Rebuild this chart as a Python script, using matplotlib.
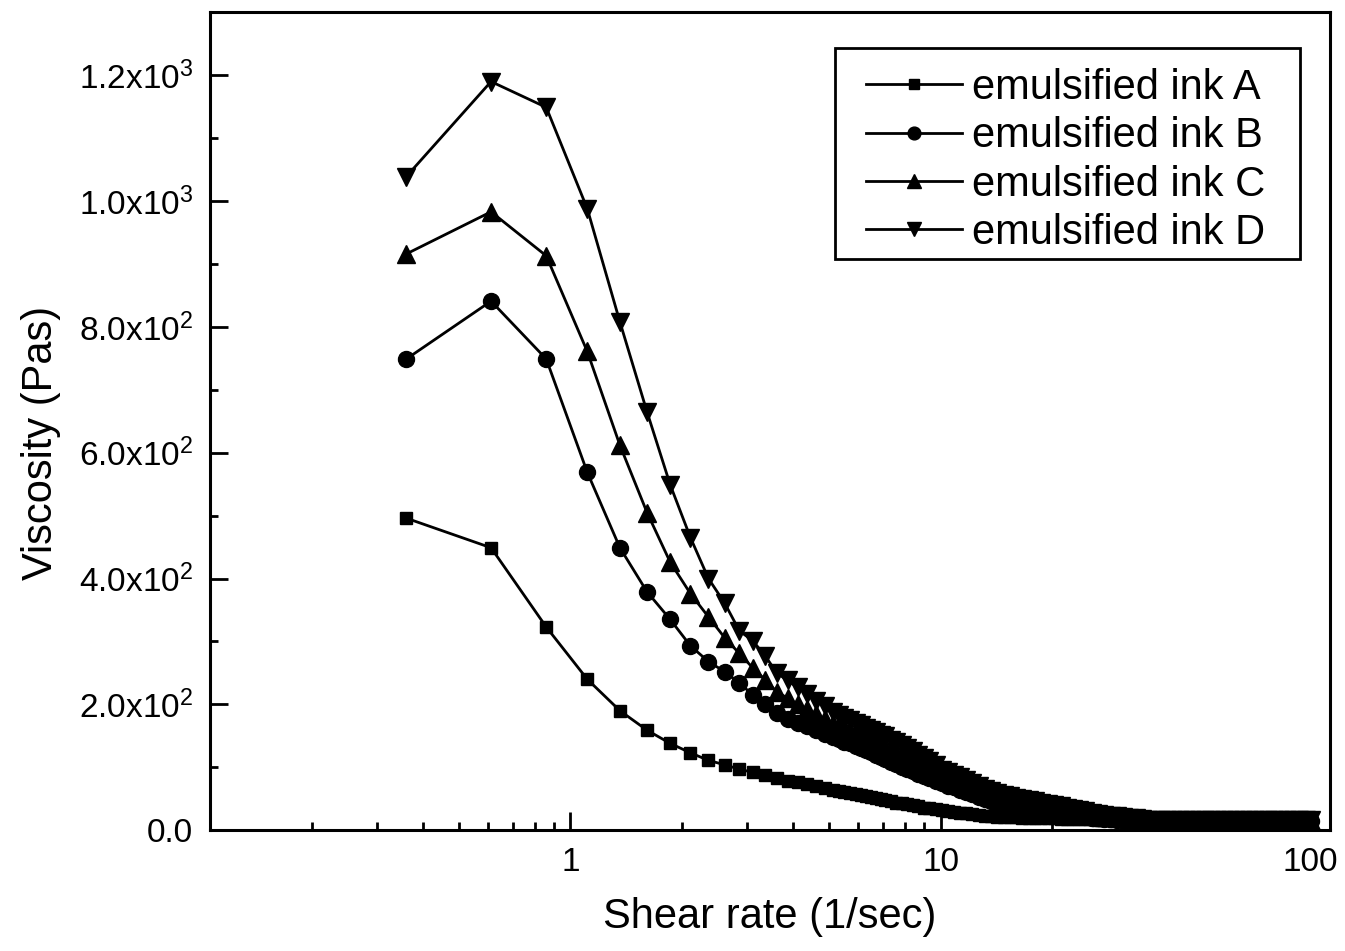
import numpy as np
import matplotlib
matplotlib.use("Agg")
import matplotlib.pyplot as plt
from matplotlib.patches import Rectangle
from matplotlib.ticker import FixedLocator, MultipleLocator, LogLocator, NullFormatter

plt.rcParams['font.family'] = ['Liberation Sans', 'DejaVu Sans']
plt.rcParams['mathtext.fontset'] = 'custom'
plt.rcParams['mathtext.rm'] = 'Liberation Sans'
plt.rcParams['mathtext.it'] = 'Liberation Sans'

# shear rate (1/sec), same grid for all four inks
shear_rate = [0.36, 0.61, 0.86, 1.11, 1.36, 1.61, 1.86, 2.11, 2.36, 2.61,
              2.86, 3.11, 3.36, 3.61, 3.86, 4.11, 4.36, 4.61, 4.86, 5.11,
              5.3, 5.5, 5.7, 5.9, 6.1, 6.3, 6.5, 6.7, 6.9, 7.1,
              7.35, 7.6, 7.85, 8.1, 8.4, 8.7, 9.0, 9.3, 9.7, 10.1,
              10.5, 10.9, 11.3, 11.7, 12.2, 12.7, 13.2, 13.7, 14.2, 14.8,
              15.4, 16.0, 16.6, 17.3, 18.0, 18.7, 19.5, 20.3, 21.1, 21.9,
              22.8, 23.7, 24.6, 25.6, 26.6, 27.7, 28.8, 30, 31.2, 32.4,
              33.7, 35, 36.4, 37.9, 39.4, 41, 42.6, 44.3, 46.1, 47.9,
              49.8, 51.8, 53.9, 56, 58.3, 60.6, 63, 65.5, 68.2, 70.9,
              73.7, 76.7, 79.7, 82.9, 86.2, 89.7, 93.3, 97, 100]

# viscosity (Pas)
ink_a = [496, 449, 323, 240, 190, 159, 138, 123, 111, 104,
         97, 92, 87, 83, 79, 76, 73, 70, 67, 64,
         62, 60, 59, 57, 56, 54, 53, 51, 50, 48,
         46, 44, 43, 41, 40, 38, 36, 35, 33, 32,
         31, 29, 28, 27, 25.5, 24.5, 23, 22, 21.5, 21,
         20.5, 20.5, 20, 20, 19.5, 19.5, 19, 19, 18.5, 18.5,
         18, 18, 17.5, 17.5, 17, 17, 16.5, 16.5, 16, 16,
         16, 15.5, 15.5, 15, 15, 15, 15, 14.5, 14.5, 14.5,
         14, 14, 14, 14, 14, 13.5, 13.5, 13.5, 13.5, 13.5,
         13, 13, 13, 13, 13, 13, 13, 13, 13]
ink_b = [749, 841, 749, 569, 449, 379, 335, 293, 268, 252,
         234, 215, 200, 186, 177, 170, 166, 159, 153, 148,
         145, 141, 138, 134, 131, 127, 124, 120, 117, 113,
         109, 105, 101, 98, 94, 90, 86, 83, 79, 75,
         71, 68, 64, 61, 57, 53, 50, 47, 44, 41,
         38, 36, 34, 32, 30, 29, 27, 26, 25, 24,
         23, 22, 21, 20, 19, 18, 17.5, 17, 16.5, 16,
         16, 16, 15.5, 15.5, 15.5, 15, 15, 15, 15, 15,
         15, 15, 15, 14.5, 14.5, 14.5, 14.5, 14.5, 14.5, 14.5,
         14, 14, 14, 14, 14, 14, 14, 14, 14]
ink_c = [916, 983, 913, 761, 612, 505, 426, 376, 339, 306,
         281, 258, 239, 220, 210, 200, 192, 184, 176, 169,
         166, 162, 158, 154, 151, 147, 144, 140, 136, 133,
         128, 124, 120, 116, 112, 107, 102, 98, 92, 87,
         83, 79, 75, 71, 67, 62, 59, 55, 52, 49,
         47, 45, 43, 41, 39, 37, 35, 34, 32, 31,
         29, 27.5, 26, 24.5, 23, 21, 20.5, 20, 19, 18,
         17.5, 17, 16.5, 16.5, 16, 16, 16, 16, 16, 16,
         15.5, 15.5, 15.5, 15.5, 15.5, 15.5, 15.5, 15.5, 15.5, 15.5,
         15, 15, 15, 15, 15, 15, 15, 15, 15]
ink_d = [1039, 1190, 1149, 988, 808, 665, 549, 465, 400, 361,
         317, 301, 277, 250, 238, 227, 216, 206, 197, 188,
         183, 179, 175, 171, 167, 163, 160, 156, 152, 149,
         144, 140, 135, 131, 126, 120, 115, 110, 103, 96,
         92, 88, 84, 80, 75, 70, 66, 62, 59, 56,
         54, 52, 50, 48, 46, 44, 42, 40, 38, 36,
         34, 32, 30, 28, 26, 24, 23, 22, 21, 20,
         19, 18, 17, 17, 16, 16, 16, 16, 16, 16,
         16, 16, 16, 16, 16, 16, 16, 16, 16, 16,
         16, 16, 16, 16, 16, 16, 16, 16, 16]

labels = ['emulsified ink A', 'emulsified ink B', 'emulsified ink C', 'emulsified ink D']
ytick_vals = [0, 200, 400, 600, 800, 1000, 1200]
ytick_labels = ['0.0', '2.0x10$^2$', '4.0x10$^2$', '6.0x10$^2$',
                '8.0x10$^2$', '1.0x10$^3$', '1.2x10$^3$']
xtick_vals = [1, 10, 100]
xtick_labels = ['1', '10', '100']

fig = plt.figure(figsize=(13.45, 9.51), dpi=100)
ax = fig.add_axes([0.156, 0.127, 0.833, 0.860])

ax.plot(shear_rate, ink_a, '-s', color='black', lw=2, ms=9, label=labels[0])
ax.plot(shear_rate, ink_b, '-o', color='black', lw=2, ms=11.5, label=labels[1])
ax.plot(shear_rate, ink_c, '-^', color='black', lw=2, ms=13, label=labels[2])
ax.plot(shear_rate, ink_d, '-v', color='black', lw=2, ms=13, label=labels[3])

ax.set_xscale('log')
ax.set_xlim(0.106, 113)
ax.set_ylim(0, 1300)

ax.xaxis.set_major_locator(FixedLocator(xtick_vals))
ax.set_xticklabels(xtick_labels)
ax.xaxis.set_minor_locator(LogLocator(base=10, subs=np.arange(2, 10)))
ax.xaxis.set_minor_formatter(NullFormatter())
ax.set_yticks(ytick_vals)
ax.set_yticklabels(ytick_labels)
ax.yaxis.set_minor_locator(MultipleLocator(100))

ax.tick_params(which='both', direction='in', top=False, right=False, labelsize=24)
ax.tick_params(which='major', length=13, width=2, pad=12)
ax.tick_params(which='minor', length=6, width=2)
for sp in ax.spines.values():
    sp.set_linewidth(2.2)

ax.set_xlabel('Shear rate (1/sec)', fontsize=30, labelpad=14)
ax.set_ylabel('Viscosity (Pas)', fontsize=30)
ax.yaxis.set_label_coords(-0.133, 0.473)

# legend without its own frame, box drawn separately (wider side padding)
leg = ax.legend(loc='upper right', bbox_to_anchor=(0.942, 0.932), fontsize=30,
                frameon=False, handlelength=2.3, handletextpad=0.25, borderpad=0,
                labelspacing=0.2, markerscale=0.8, borderaxespad=0)
ax.add_patch(Rectangle((0.558, 0.699), 0.415, 0.258, transform=ax.transAxes,
                       fill=False, edgecolor='black', linewidth=2, zorder=5))

fig.savefig('out.png', dpi=100)
